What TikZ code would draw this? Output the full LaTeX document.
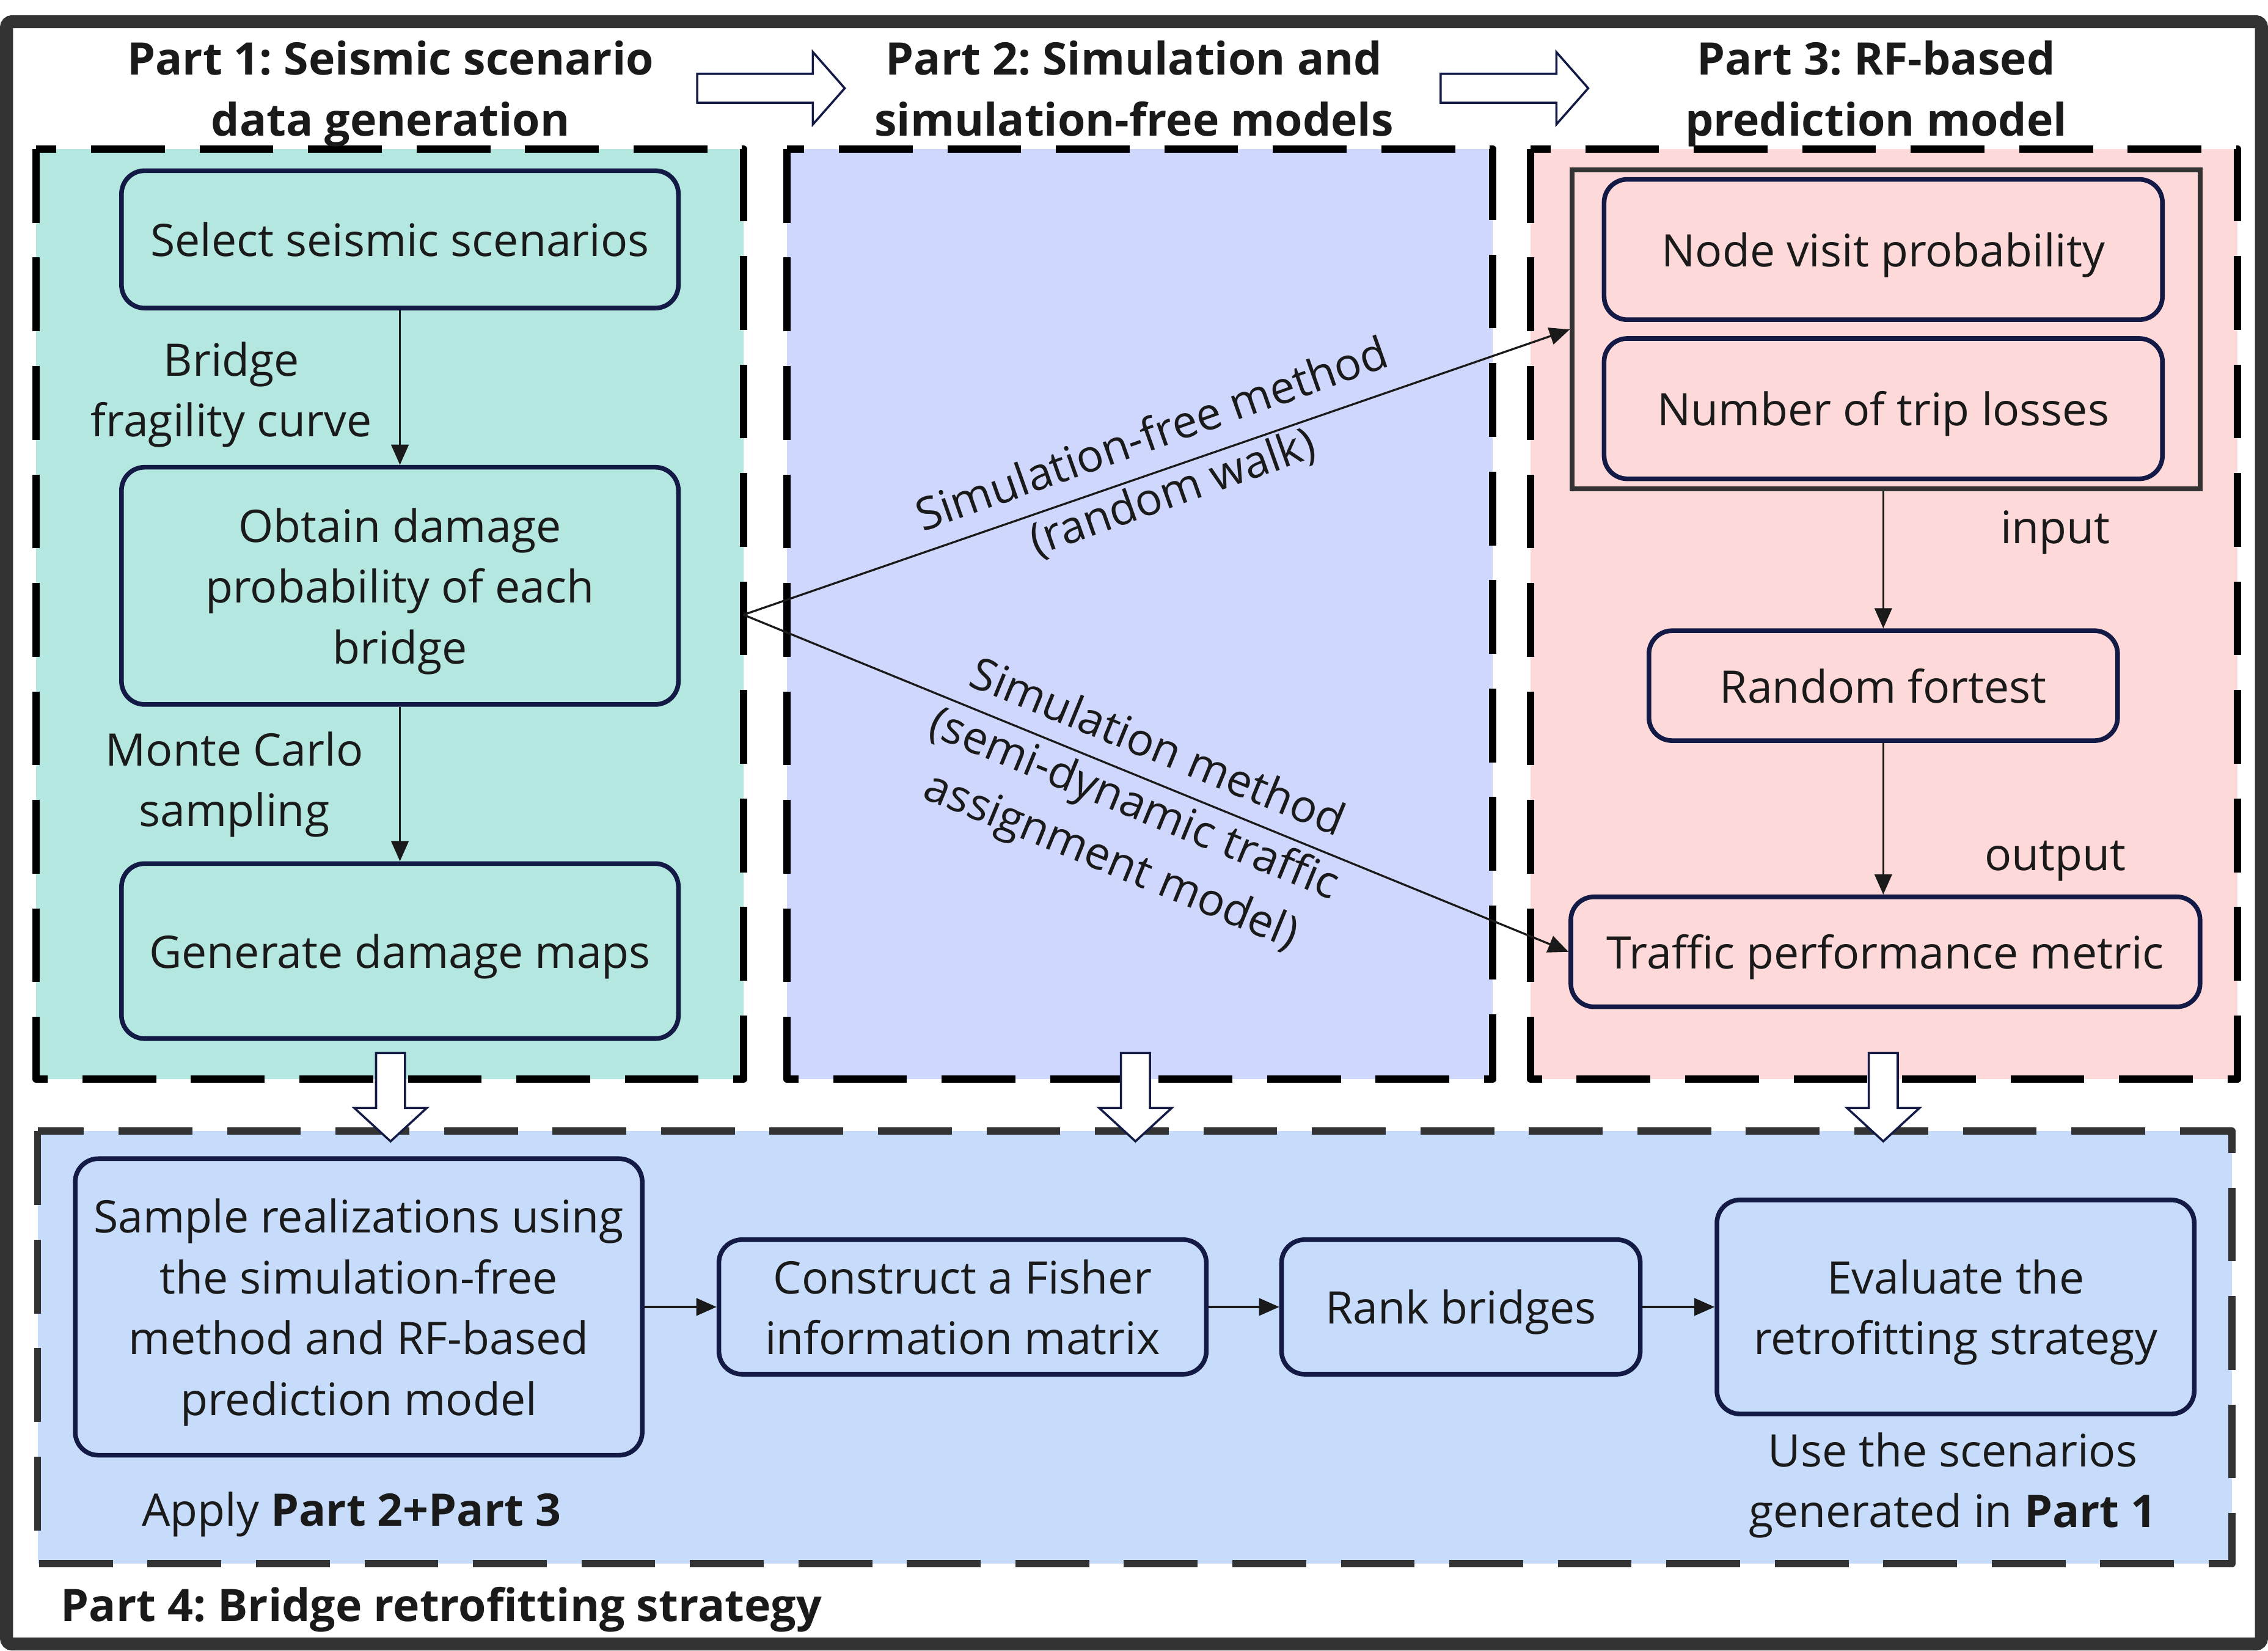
\documentclass[tikz,border=0pt]{standalone}
\usepackage{fontspec}
\setmainfont{Open Sans}
\frenchspacing
\usetikzlibrary{arrows.meta,calc}
\definecolor{framec}{HTML}{333333}
\definecolor{pAfill}{HTML}{B3E7E0}
\definecolor{pBfill}{HTML}{CFD7FC}
\definecolor{pCfill}{HTML}{FDD9D9}
\definecolor{pDfill}{HTML}{C6DCFA}
\definecolor{navy}{HTML}{141A46}
\definecolor{txt}{HTML}{1A1A1A}
\newcommand\mystrut{\rule[-9.2pt]{0pt}{42pt}}
\begin{document}
\begin{tikzpicture}[x=1pt,y=-1pt,
  every node/.style={text=txt, font=\fontsize{31}{42}\selectfont,
    execute at begin node=\mystrut, execute at end node=\mystrut},
  proc/.style={draw=navy, line width=3.2pt, rounded corners=16pt, align=center, inner sep=0pt},
  lbl/.style={align=center, inner sep=0pt},
  ttl/.style={align=center, inner sep=0pt, font=\fontsize{31}{42}\selectfont\bfseries},
  dashbox/.style={line width=5pt, dash pattern=on 51pt off 24pt, line join=round},
  arr/.style={-{Triangle[length=14pt,width=12pt]}, line width=1.4pt, draw=txt},
  blockarrow/.style={draw=navy, line width=1.5pt, fill=white, line join=miter},
]
\useasboundingbox (0,0) rectangle (1568,1141);
\fill[white] (0,0) rectangle (1568,1141);
\draw[framec, line width=9pt, rounded corners=4pt] (4.5,15) rectangle (1563.5,1136.5);

% part boxes
\fill[pAfill] (25,103) rectangle (514,746);
\draw[dashbox] (25,103) rectangle (514,746);
\fill[pBfill] (544,103) rectangle (1032,746);
\draw[dashbox] (544,103) rectangle (1032,746);
\fill[pCfill] (1058,103) rectangle (1547,746);
\draw[dashbox] (1058,103) rectangle (1547,746);
\fill[pDfill] (26,782) rectangle (1543,1081);
\draw[dashbox, framec] (26,782) rectangle (1543,1081);

% titles
\node[ttl] (t1) at (270,61) {\mystrut Part 1: Seismic scenario\\data generation};
\node[ttl] (t2) at (784,61) {\mystrut Part 2: Simulation and\\simulation-free models};
\node[ttl] (t3) at (1297,61) {\mystrut Part 3: RF-based\\prediction model};
\node[ttl, anchor=west] (t4) at (42,1109) {Part 4: Bridge retrofitting strategy};

% part 1
\node[proc, minimum width=385pt, minimum height=95pt] (n1) at (276.5,165.5) {Select seismic scenarios};
\node[proc, minimum width=385pt, minimum height=164pt] (n2) at (276.5,405) {\mystrut Obtain damage\\probability of each\\bridge};
\node[proc, minimum width=385pt, minimum height=121pt] (n3) at (276.5,657.5) {Generate damage maps};
\draw[arr] (n1) -- (n2);
\draw[arr] (n2) -- (n3);
\node[lbl] (l1) at (160,269) {\mystrut Bridge\\fragility curve};
\node[lbl] (l2) at (162,538.5) {\mystrut Monte Carlo\\sampling};

% part 3
\node[draw=framec, line width=3.5pt, minimum width=434pt, minimum height=220.5pt, inner sep=0pt] (g) at (1304,227.75) {};
\node[proc, minimum width=386pt, minimum height=97pt] (nv) at (1302,172.5) {Node visit probability};
\node[proc, minimum width=386pt, minimum height=97pt] (nt) at (1302,282.5) {Number of trip losses};
\node[proc, minimum width=324pt, minimum height=76pt] (rf) at (1302,474) {Random fortest};
\node[proc, minimum width=435pt, minimum height=76pt] (tpm) at (1303.5,658) {Traffic performance metric};
\draw[arr] (rf.north |- g.south) -- (rf.north);
\draw[arr] (rf.south) -- (rf.south |- tpm.north);
\node[lbl] (lin) at (1421,364) {input};
\node[lbl] (lout) at (1421,590) {output};

% diagonal connectors
\coordinate (src) at (514,425);
\draw[arr] (src) -- (g.west);
\draw[arr] (src) -- (tpm.west);
\node[lbl, rotate=19.5] (d1) at (803,319) {\mystrut Simulation-free method\\(random walk)};
\node[lbl, rotate=-22.3] (d2) at (785,554) {\mystrut Simulation method\\(semi-dynamic traffic\\assignment model)};

% part 4
\node[proc, minimum width=392pt, minimum height=205pt] (s1) at (248,903.5) {\mystrut Sample realizations using\\the simulation-free\\method and RF-based\\prediction model};
\node[proc, minimum width=337pt, minimum height=93pt] (s2) at (665.5,903.5) {\mystrut Construct a Fisher\\information matrix};
\node[proc, minimum width=248pt, minimum height=93pt] (s3) at (1010,903.5) {Rank bridges};
\node[proc, minimum width=330pt, minimum height=148pt] (s4) at (1352,903.5) {\mystrut Evaluate the\\retrofitting strategy};
\draw[arr] (s1) -- (s2);
\draw[arr] (s2) -- (s3);
\draw[arr] (s3) -- (s4);
\node[lbl] (a1) at (243,1043) {Apply \textbf{Part 2+Part 3}};
\node[lbl] (a2) at (1350,1023) {\mystrut Use the scenarios\\generated in \textbf{Part 1}};

% block arrows
\draw[blockarrow] (482,51) -- (562,51) -- (562,36) -- (584,61) -- (562,86) -- (562,71) -- (482,71) -- cycle;
\draw[blockarrow] (996,51) -- (1076,51) -- (1076,36) -- (1098,61) -- (1076,86) -- (1076,71) -- (996,71) -- cycle;
\foreach \cx in {270,785,1302}{
  \draw[blockarrow] (\cx-10,728) -- (\cx+10,728) -- (\cx+10,766) -- (\cx+25,766) -- (\cx,789) -- (\cx-25,766) -- (\cx-10,766) -- cycle;
}
\end{tikzpicture}
\end{document}
